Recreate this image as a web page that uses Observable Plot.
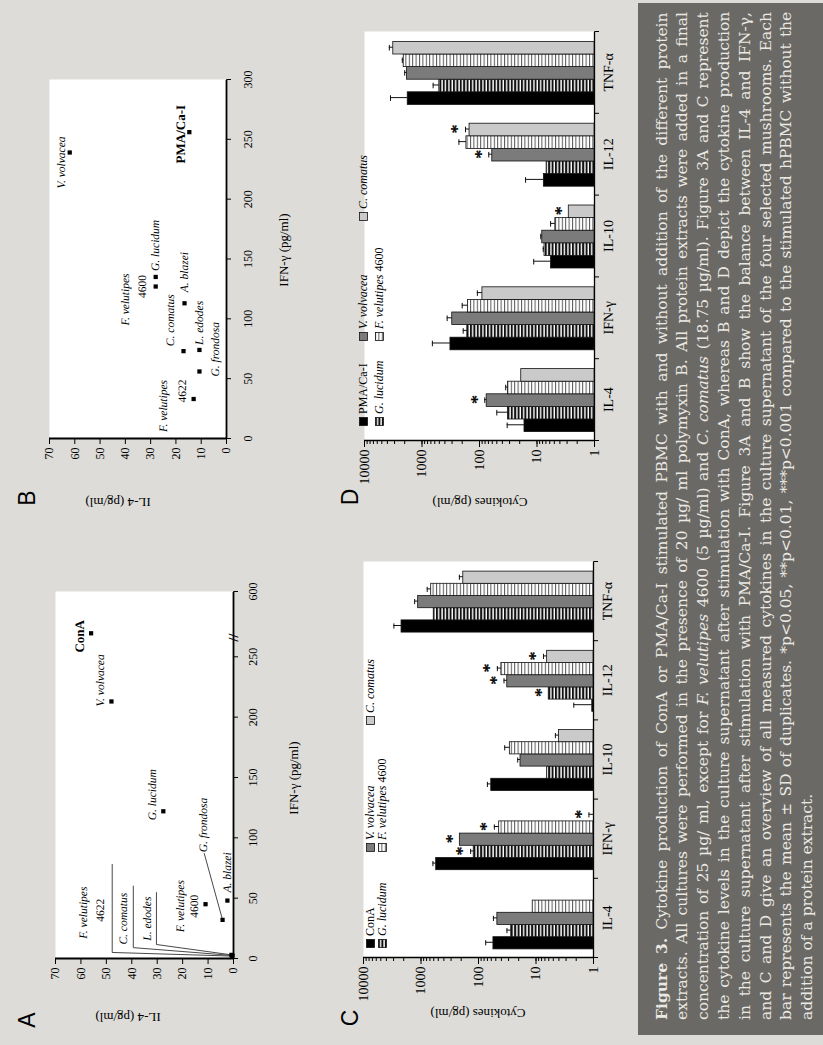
<!DOCTYPE html>
<html>
<head>
<meta charset="utf-8">
<script src="https://cdn.jsdelivr.net/npm/d3@7"></script>
<script src="https://cdn.jsdelivr.net/npm/@observablehq/plot@0.6"></script>
<style>
  html, body { margin: 0; padding: 0; }
  body { width: 823px; height: 1045px; overflow: hidden; position: relative; background: #dddcd8; }
  #page { position: absolute; left: 0; top: 0; width: 1045px; height: 823px; transform-origin: 0 0;
          transform: translate(0px, 1045px) rotate(-90deg); background: #dddcd8;
          font-family: "Liberation Serif", "Times New Roman", serif; color: #000; }
  #page > * { position: absolute; }
  .t { white-space: nowrap; transform: translate(-50%, -50%); line-height: 1; }
  .tv { white-space: nowrap; transform: translate(-50%, -50%) rotate(-90deg); line-height: 1; }
  .letter { font-family: "Liberation Sans", Arial, sans-serif; font-size: 23px; }
  .title { font-size: 13px; }
  .legend { font-size: 12px; line-height: 1; white-space: nowrap; display: flex; align-items: center; transform: translateY(-50%); }
  .legend svg { margin-right: 3px; }
  #caption { left: 10px; top: 638px; width: 1032px; height: 185px; background: #6b6966; color: #ebe9e4;
             font-family: "DejaVu Serif", serif; font-size: 15.5px; }
  #caption .line { position: absolute; left: 15px; white-space: nowrap; height: 20.8px; line-height: 20.8px; }
  svg text { text-rendering: geometricPrecision; }
</style>
</head>
<body>
<svg width="0" height="0" style="position:absolute;left:0;top:0">
  <defs>
    <pattern id="stripeDark" patternUnits="userSpaceOnUse" width="10" height="3.4">
      <rect width="10" height="3.4" fill="#ffffff"></rect>
      <rect width="10" height="2" fill="#111111"></rect>
    </pattern>
    <pattern id="stripeLight" patternUnits="userSpaceOnUse" width="10" height="3.4">
      <rect width="10" height="3.4" fill="#ffffff"></rect>
      <rect width="10" height="1" fill="#555555"></rect>
    </pattern>
  </defs>
</svg>
<div id="page"></div>
<script>
// ---------------- DATA ----------------
// Panel A (ConA stimulation): IL-4 vs IFN-γ, pg/ml
const namesA = ["ConA", "V. volvacea", "G. lucidum", "F. velutipes 4600", "A. blazei", "G. frondosa", "F. velutipes 4622", "C. comatus", "L. edodes"];
const ifnA   = [535, 213, 122, 45, 48, 32, 2, 2.5, 3];
const il4A   = [56, 48, 27.6, 11, 2.4, 4.3, 0.6, 0.4, 0.8];
const ifnTicksA = [0, 50, 100, 150, 200, 250, 600];
const breakA = [266, 530];

// Panel B (PMA/Ca-I stimulation)
const namesB = ["PMA/Ca-I", "V. volvacea", "G. lucidum", "F. velutipes 4600", "A. blazei", "C. comatus", "L. edodes", "G. frondosa", "F. velutipes 4622"];
const ifnB   = [256, 239, 135, 127, 113, 73, 74, 56, 33];
const il4B   = [14.7, 62, 28, 28, 16.6, 17, 10.7, 10.7, 13];
const ifnTicksB = [0, 50, 100, 150, 200, 250, 300];
const il4Ticks = [0, 10, 20, 30, 40, 50, 60, 70];

// Panels C & D: cytokines (pg/ml), log scale
const cytokines = ["IL-4", "IFN-γ", "IL-10", "IL-12", "TNF-α"];
const seriesC = ["ConA", "G. lucidum", "V. volvacea", "F. velutipes 4600", "C. comatus"];
const seriesD = ["PMA/Ca-I", "G. lucidum", "V. volvacea", "F. velutipes 4600", "C. comatus"];

const cConA      = [55, 544, 60, 1.05, 2180];
const cConA_sd   = [20, 76, 10, 1.15, 780];
const cGluc      = [27, 121, 6.4, 6.0, 600];
const cGluc_sd   = [5, 16, null, null, null];
const cVvol      = [47, 211, 18.6, 31.6, 1120];
const cVvol_sd   = [8, null, 2.2, 4.4, 170];
const cFvel      = [11.4, 43.7, 28.5, 40, 665];
const cFvel_sd   = [null, 9.3, 6.5, 7, 115];
const cCcom      = [null, 1, 4.0, 6.4, 184];
const cCcom_sd   = [null, 0.2, 0.6, 1.0, 31];
const cSigConA = ["", "", "", "", ""];
const cSigGluc = ["", "*", "", "*", ""];
const cSigVvol = ["", "*", "", "*", ""];
const cSigFvel = ["", "*", "", "*", ""];
const cSigCcom = ["", "*", "", "*", ""];

const dPMA       = [16.5, 320, 5.7, 7.6, 1770];
const dPMA_sd    = [16.5, 340, 5.7, 8.2, 1760];
const dGluc      = [32, 163, 7.4, 6.8, 500];
const dGluc_sd   = [18, 29, 0.4, null, 140];
const dVvol      = [75, 298, 8.1, 60, 1820];
const dVvol_sd   = [6, 67, 0.5, 9, 180];
const dFvel      = [32, 159, 4.8, 169, 2080];
const dFvel_sd   = [3, 41, 1.0, 59, 120];
const dCcom      = [18.8, 89, 2.8, 149, 3160];
const dCcom_sd   = [null, 20, null, 26, 540];
const dSigPMA  = ["", "", "", "", ""];
const dSigGluc = ["", "", "", "", ""];
const dSigVvol = ["*", "", "", "*", ""];
const dSigFvel = ["", "", "", "", ""];
const dSigCcom = ["", "", "*", "*", ""];

const decades = [1, 10, 100, 1000, 10000];
const logTicks = [1, 2, 3, 4, 5, 6, 7, 8, 9, 10, 20, 30, 40, 50, 60, 70, 80, 90, 100, 200, 300, 400, 500, 600, 700, 800, 900,
                  1000, 2000, 3000, 4000, 5000, 6000, 7000, 8000, 9000, 10000];
const barFills = ["#000000", "url(#stripeDark)", "#7b7b7b", "url(#stripeLight)", "#cacaca"];

// ---------------- helpers ----------------
const page = document.getElementById("page");
const serif = '"Liberation Serif", "Times New Roman", serif';
const baseStyle = {fontFamily: serif, fontSize: "12px", background: "transparent", overflow: "visible", color: "#000"};

function put(el, left, top) { el.style.position = "absolute"; el.style.left = left + "px"; el.style.top = top + "px"; page.appendChild(el); return el; }
function txt(cls, html, left, top, extra) { const d = document.createElement("div"); d.className = cls; d.innerHTML = html; if (extra) d.style.cssText += extra; return put(d, left, top); }

function rowsOf(names, ifn, il4) { return names.map((name, i) => ({name, ifn: ifn[i], il4: il4[i]})); }

function pointLabel(rows, s) {
  return Plot.text(rows.filter(r => r.name === s.name), {
    x: "ifn", y: "il4", text: () => s.text, dx: s.dx || 0, dy: s.dy || 0, textAnchor: s.anchor || "middle",
    fontStyle: s.italic ? "italic" : "normal", fontWeight: s.bold ? "bold" : "normal", fontSize: s.bold ? 13 : 11.5, fill: "#000"
  });
}
function freeLabel(s) {
  return Plot.text([s], {x: "x", y: "y", text: "text", textAnchor: s.anchor || "middle",
    fontStyle: s.italic ? "italic" : "normal", fontSize: 11.5, fill: "#000"});
}
function leaderPaths(rows, leaders) {
  return leaders.flatMap(l => {
    const p = rows.find(r => r.name === l.name);
    return [{k: l.name, x: p.ifn, y: p.il4}, ...l.bends.map(b => ({k: l.name, x: b[0], y: b[1]}))];
  });
}

// ---------------- Panel A ----------------
const rowsA = rowsOf(namesA, ifnA, il4A);
const leadersA = [
  {name: "F. velutipes 4622", bends: [[5, 47.7], [78, 47.7]]},
  {name: "C. comatus", bends: [[9, 39.4], [60, 39.4]]},
  {name: "L. edodes", bends: [[11.6, 30.3], [54.6, 30.3]]},
  {name: "G. frondosa", bends: [[87, 11.5]]}
];
const labelsA = [
  {name: "ConA", text: "ConA", dx: -3, dy: -11, bold: true},
  {name: "V. volvacea", text: "V. volvacea", dx: -5, dy: -11, anchor: "start", italic: true},
  {name: "G. lucidum", text: "G. lucidum", dx: -9, dy: -11, anchor: "start", italic: true},
  {name: "F. velutipes 4600", text: "F. velutipes", dx: -2, dy: -25, italic: true},
  {name: "F. velutipes 4600", text: "4600", dx: -2, dy: -11},
  {name: "A. blazei", text: "A. blazei", dx: 8, dy: 0, anchor: "start", italic: true}
];
const freeA = [
  {text: "F. velutipes", x: 38, y: 59, italic: true},
  {text: "4622", x: 40, y: 52.3},
  {text: "C. comatus", x: 33, y: 43.3, italic: true},
  {text: "L. edodes", x: 33, y: 33.9, italic: true},
  {text: "G. frondosa", x: 88, y: 11.8, anchor: "start", italic: true}
];
const plotA = Plot.plot({
  width: 520, height: 320, marginLeft: 86, marginRight: 67, marginTop: 55, marginBottom: 87,
  style: baseStyle,
  x: {type: "linear", domain: [0, breakA[0], breakA[1], 600], range: [86, 407, 408, 453], ticks: ifnTicksA, tickSize: 5, tickPadding: 10, label: null},
  y: {domain: [0, 70], ticks: il4Ticks, tickSize: 5, tickPadding: 4, label: null},
  marks: [
    Plot.frame({fill: "white", stroke: "none"}),
    Plot.line(leaderPaths(rowsA, leadersA), {x: "x", y: "y", z: "k", stroke: "#333", strokeWidth: 0.9}),
    Plot.ruleX([0], {strokeWidth: 1.8}),
    Plot.ruleY([0], {strokeWidth: 1.8}),
    Plot.text(["//"], {x: breakA[0], y: 0, text: d => d, fontWeight: "bold", fontSize: 14, fill: "#000"}),
    Plot.dot(rowsA, {x: "ifn", y: "il4", symbol: "square", r: 2.4, fill: "black", stroke: "none"}),
    ...labelsA.map(s => pointLabel(rowsA, s)),
    ...freeA.map(freeLabel)
  ]
});
put(plotA, 0, 0);

// ---------------- Panel B ----------------
const rowsB = rowsOf(namesB, ifnB, il4B);
const labelsB = [
  {name: "PMA/Ca-I", text: "PMA/Ca-I", dx: -2, dy: -9, bold: true},
  {name: "V. volvacea", text: "V. volvacea", dx: -10, dy: -8, italic: true},
  {name: "F. velutipes 4600", text: "F. velutipes", dx: -13, dy: -30, italic: true},
  {name: "F. velutipes 4600", text: "4600", dx: 0, dy: -13},
  {name: "G. lucidum", text: "G. lucidum", dx: 6, dy: 0, anchor: "start", italic: true},
  {name: "A. blazei", text: "A. blazei", dx: 11, dy: 0, anchor: "start", italic: true},
  {name: "C. comatus", text: "C. comatus", dx: 5, dy: -13, anchor: "start", italic: true},
  {name: "L. edodes", text: "L. edodes", dx: 5, dy: 0, anchor: "start", italic: true},
  {name: "G. frondosa", text: "G. frondosa", dx: -5, dy: 16, anchor: "start", italic: true},
  {name: "F. velutipes 4622", text: "F. velutipes", dx: -7, dy: -30, italic: true},
  {name: "F. velutipes 4622", text: "4622", dx: 8, dy: -11}
];
const plotB = Plot.plot({
  width: 520, height: 320, marginLeft: 86, marginRight: 75, marginTop: 49, marginBottom: 94,
  style: baseStyle,
  x: {domain: [0, 300], ticks: ifnTicksB, tickSize: 5, tickPadding: 12, label: null},
  y: {domain: [0, 70], ticks: il4Ticks, tickSize: 5, tickPadding: 4, label: null},
  marks: [
    Plot.frame({fill: "white", stroke: "none"}),
    Plot.ruleX([0], {strokeWidth: 1.8}),
    Plot.ruleY([0], {strokeWidth: 1.8}),
    Plot.dot(rowsB, {x: "ifn", y: "il4", symbol: "square", r: 2.4, fill: "black", stroke: "none"}),
    ...labelsB.map(s => pointLabel(rowsB, s))
  ]
});
put(plotB, 520, 0);

// ---------------- Panels C & D ----------------
function buildRows(series, means, sds, sigs) {
  const rows = [];
  series.forEach((s, si) => cytokines.forEach((c, ci) => {
    const m = means[si][ci], sd = sds[si][ci];
    rows.push({cytokine: c, series: s, mean: m, upper: (m != null && sd != null) ? m + sd : null, sig: sigs[si][ci]});
  }));
  return rows;
}
function barPanel(rows, series, left, top, dims) {
  const common = {width: dims.width, height: dims.height, marginLeft: dims.ml, marginRight: dims.mr, marginTop: dims.mt, marginBottom: dims.mb};
  const axes = Plot.plot({
    ...common, style: {...baseStyle, fontSize: "14px"},
    x: {type: "linear", domain: [0, cytokines.length], ticks: d3.range(cytokines.length + 1), tickFormat: () => "", tickSize: 5, label: null},
    y: {type: "log", domain: [1, 10000], ticks: logTicks, tickFormat: d => decades.includes(d) ? String(d) : "", tickSize: 3, tickPadding: 6, label: null},
    marks: [
      Plot.frame({fill: "white", stroke: "none"}),
      Plot.ruleY(decades, {x1: 0, x2: 0, insetLeft: -6}),
      Plot.ruleX([0], {strokeWidth: 1.3}),
      Plot.ruleY([1], {strokeWidth: 1.3})
    ]
  });
  put(axes, left, top);
  const bars = Plot.plot({
    ...common, style: {...baseStyle, fontSize: "14px"},
    facet: {data: rows, x: "cytokine"},
    fx: {domain: cytokines, paddingInner: 0.23, paddingOuter: 0.115, round: false, label: null, tickSize: 0, tickPadding: 9, axis: "bottom"},
    x: {domain: series, padding: 0, round: false, axis: null},
    y: {type: "log", domain: [1, 10000], axis: null},
    color: {domain: series, range: barFills},
    marks: [
      Plot.barY(rows, {x: "series", y1: 1, y2: "mean", fill: "series", stroke: "#111", strokeWidth: 0.8, filter: d => d.mean != null}),
      Plot.ruleX(rows, {x: "series", y1: "mean", y2: "upper", stroke: "#111", strokeWidth: 1, filter: d => d.upper != null}),
      Plot.tickY(rows, {x: "series", y: "upper", stroke: "#111", strokeWidth: 1, insetLeft: 3.5, insetRight: 3.5, filter: d => d.upper != null}),
      Plot.text(rows, {x: "series", y: d => d.upper != null ? d.upper : (d.mean != null ? d.mean : 1), text: "sig", dy: -8,
                       fontSize: 18, fontFamily: serif, fill: "#000", stroke: "#000", strokeWidth: 0.35, filter: d => d.sig})
    ]
  });
  put(bars, left, top);
}
const rowsC = buildRows(seriesC,
  [cConA, cGluc, cVvol, cFvel, cCcom],
  [cConA_sd, cGluc_sd, cVvol_sd, cFvel_sd, cCcom_sd],
  [cSigConA, cSigGluc, cSigVvol, cSigFvel, cSigCcom]);
const rowsD = buildRows(seriesD,
  [dPMA, dGluc, dVvol, dFvel, dCcom],
  [dPMA_sd, dGluc_sd, dVvol_sd, dFvel_sd, dCcom_sd],
  [dSigPMA, dSigGluc, dSigVvol, dSigFvel, dSigCcom]);
barPanel(rowsC, seriesC, 0, 300, {width: 520, height: 340, ml: 87, mr: 37, mt: 63, mb: 47});
barPanel(rowsD, seriesD, 520, 300, {width: 525, height: 340, ml: 84, mr: 32, mt: 64, mb: 46});

// legends
function swatch(fill) {
  return `<svg width="9" height="9"><rect x="0.5" y="0.5" width="8" height="8" fill="${fill}" stroke="#111" stroke-width="0.8"></rect></svg>`;
}
function legendItem(label, fill, left, top) {
  const italic = label.includes(". ");
  const html = italic ? label.replace(/^([A-Z]\. [a-z]+)(.*)$/, "<i>$1</i>$2") : label;
  txt("legend", swatch(fill) + "<span>" + html + "</span>", left, top);
}
const legC = [[97, 370], [97, 382], [193, 370], [193, 382], [320, 370]];
const legD = [[619, 363], [619, 379], [704, 363], [704, 379], [824, 363]];
seriesC.forEach((s, i) => legendItem(s, barFills[i], legC[i][0], legC[i][1]));
seriesD.forEach((s, i) => legendItem(s, barFills[i], legD[i][0], legD[i][1]));

// titles and panel letters
txt("t letter", "A", 25, 27);
txt("t letter", "B", 547, 27);
txt("t letter", "C", 27, 350);
txt("t letter", "D", 548, 350);
txt("tv title", "IL-4 (pg/ml)", 28, 128);
txt("tv title", "IL-4 (pg/ml)", 543, 118);
txt("t title", "IFN-γ (pg/ml)", 267, 293);
txt("t title", "IFN-γ (pg/ml)", 795, 283);
txt("tv title", "Cytokines (pg/ml)", 32, 478);
txt("tv title", "Cytokines (pg/ml)", 543, 480);

// caption
const captionLines = [
  "<b>Figure 3.</b> Cytokine production of ConA or PMA/Ca-I stimulated PBMC with and without addition of the different protein",
  "extracts. All cultures were performed in the presence of 20 µg/ ml polymyxin B. All protein extracts were added in a final",
  "concentration of 25 µg/ ml, except for <i>F. velutipes</i> 4600 (5 µg/ml) and <i>C. comatus</i> (18.75 µg/ml). Figure 3A and C represent",
  "the cytokine levels in the culture supernatant after stimulation with ConA, whereas B and D depict the cytokine production",
  "in the culture supernatant after stimulation with PMA/Ca-I. Figure 3A and B show the balance between IL-4 and IFN-γ,",
  "and C and D give an overview of all measured cytokines in the culture supernatant of the four selected mushrooms. Each",
  "bar represents the mean ± SD of duplicates. *p&lt;0.05, **p&lt;0.01, ***p&lt;0.001 compared to the stimulated hPBMC without the",
  "addition of a protein extract."
];
const cap = document.createElement("div");
cap.id = "caption";
page.appendChild(cap);
captionLines.forEach((h, i) => {
  const l = document.createElement("div");
  l.className = "line";
  l.innerHTML = h;
  l.style.top = (24 + 20.8 * i - 10.4) + "px";
  cap.appendChild(l);
});
const lineEls = cap.querySelectorAll(".line");
lineEls.forEach((el, i) => {
  if (i === lineEls.length - 1) return;
  const w = el.offsetWidth;
  const spaces = (el.textContent.match(/ /g) || []).length;
  el.style.wordSpacing = ((1008 - w) / spaces) + "px";
});
</script>
</body>
</html>
